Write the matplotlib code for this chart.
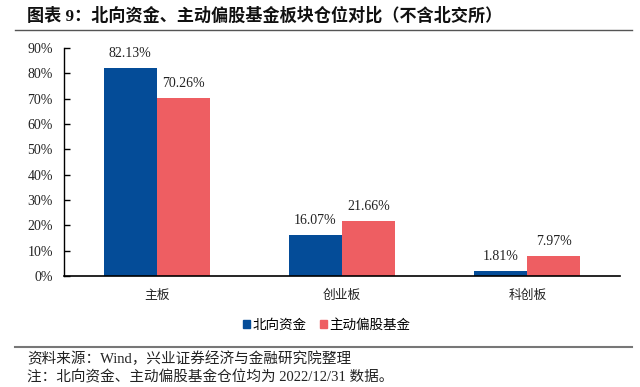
import matplotlib
matplotlib.use("Agg")
import matplotlib.pyplot as plt
from matplotlib.lines import Line2D
from matplotlib.patches import Patch
import numpy as np

categories = ["主板", "创业板", "科创板"]
northbound = [82.13, 16.07, 1.81]
active_funds = [70.26, 21.66, 7.97]
series_names = ["北向资金", "主动偏股基金"]
yticks = [0, 10, 20, 30, 40, 50, 60, 70, 80, 90]

FAM = ["Liberation Serif", "Noto Sans CJK SC"]
plt.rcParams["font.family"] = FAM

blue = "#044C98"
red = "#EE5E62"
W, H = 640, 387

fig = plt.figure(figsize=(6.4, 3.87), dpi=100)
ax_l, ax_r, ax_b, ax_t = 64, 620, 276, 48
ax = fig.add_axes([ax_l / W, 1 - ax_b / H, (ax_r - ax_l) / W, (ax_b - ax_t) / H])

x = np.arange(len(categories))
w = 0.286
b1 = ax.bar(x - w / 2, northbound, w, color=blue, label=series_names[0])
b2 = ax.bar(x + w / 2, active_funds, w, color=red, label=series_names[1])

for bars, vals in ((b1, northbound), (b2, active_funds)):
    for r, v in zip(bars, vals):
        ax.annotate(f"{v:.2f}%", (r.get_x() + r.get_width() / 2, v),
                    xytext=(0, 10.6), textcoords="offset points",
                    ha="center", va="center", fontsize=10, color="#222222")

ax.set_xlim(-0.5, 2.5)
ax.set_ylim(0, 90)
ax.set_yticks(yticks)
ax.set_yticklabels([f"{t}%" for t in yticks], fontsize=10, color="#222222")
ax.set_xticks(x)
ax.set_xticklabels(categories, fontsize=9.2, color="#222222")
ax.tick_params(axis="x", length=0, pad=10)
ax.tick_params(axis="y", direction="in", length=4, width=1, pad=8)
for s in ("top", "right"):
    ax.spines[s].set_visible(False)
ax.spines["left"].set_linewidth(1)
ax.spines["bottom"].set_linewidth(1.2)

leg_cx = (326.5 - ax_l) / (ax_r - ax_l)
ax.legend(handles=[Patch(color=blue), Patch(color=red)], labels=series_names,
          loc="center", bbox_to_anchor=(leg_cx, 1 - (325 - ax_t) / (ax_b - ax_t)),
          ncol=2, frameon=False, fontsize=9.75, handlelength=0.5, handleheight=0.5,
          handletextpad=0.2, columnspacing=1.0, borderpad=0)

fig.text(27 / W, 1 - 16 / H, "图表 9：北向资金、主动偏股基金板块仓位对比（不含北交所）",
         fontsize=12.3, fontweight="bold", ha="left", va="center", color="#111111")
fig.add_artist(Line2D([15 / W, 632 / W], [1 - 30 / H] * 2, color="#555555", lw=1))
fig.add_artist(Line2D([15 / W, 632 / W], [1 - 347 / H] * 2, color="#777777", lw=1.5))
fig.text(27 / W, 1 - 359 / H, "资料来源：Wind，兴业证券经济与金融研究院整理",
         fontsize=10.5, ha="left", va="center", color="#222222")
fig.text(27 / W, 1 - 377 / H, "注：北向资金、主动偏股基金仓位均为 2022/12/31 数据。",
         fontsize=10.5, ha="left", va="center", color="#222222")

fig.savefig("out.png", dpi=100)
